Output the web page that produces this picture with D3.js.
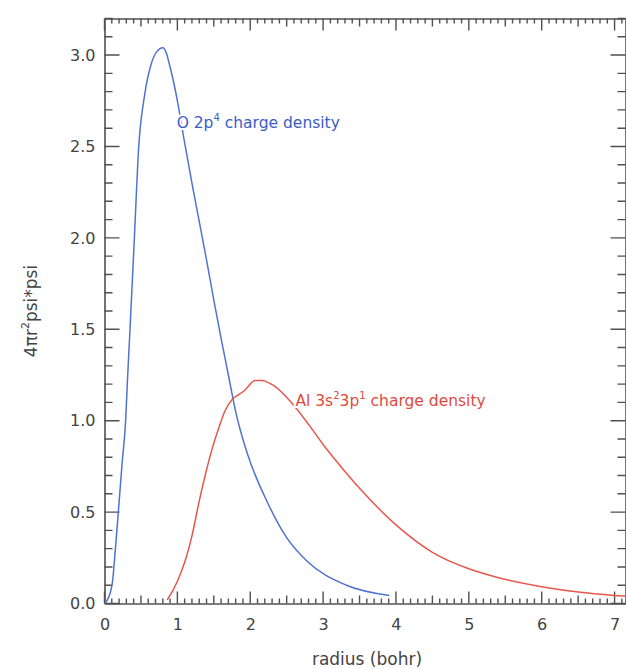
<!DOCTYPE html>
<html>
<head>
<meta charset="utf-8">
<script src="https://cdn.jsdelivr.net/npm/d3@7"></script>
<style>
  html, body { margin: 0; padding: 0; background: #fff; }
  svg { display: block; }
  text { font-family: "DejaVu Sans", sans-serif; }
</style>
</head>
<body>
<div id="chart"></div>
<script>
// ---- data ----
const oRadius  = [0, 0.04, 0.08, 0.11, 0.15, 0.19, 0.24, 0.29, 0.315, 0.35, 0.41, 0.47, 0.55, 0.64, 0.72, 0.80, 0.85, 0.89, 0.95, 1.0, 1.1, 1.2, 1.3, 1.4, 1.5, 1.6, 1.7, 1.8, 1.96, 2.24, 2.5, 2.77, 3.32, 3.91];
const oDensity = [0, 0.02, 0.06, 0.12, 0.30, 0.50, 0.76, 1.00, 1.22, 1.50, 2.00, 2.50, 2.78, 2.95, 3.02, 3.04, 3.01, 2.95, 2.85, 2.75, 2.52, 2.30, 2.09, 1.88, 1.66, 1.45, 1.25, 1.05, 0.82, 0.55, 0.36, 0.235, 0.10, 0.044];

const alRadius  = [0.86, 0.95, 1.05, 1.12, 1.20, 1.30, 1.40, 1.48, 1.56, 1.65, 1.76, 1.85, 1.92, 2.0, 2.06, 2.15, 2.33, 2.54, 2.8, 3.0, 3.2, 3.5, 4.0, 4.5, 5.0, 5.42, 6.1, 6.5, 7.0, 7.2];
const alDensity = [0.02, 0.08, 0.17, 0.25, 0.37, 0.56, 0.73, 0.85, 0.95, 1.05, 1.12, 1.145, 1.165, 1.20, 1.22, 1.22, 1.19, 1.11, 0.98, 0.87, 0.77, 0.63, 0.43, 0.28, 0.19, 0.14, 0.085, 0.063, 0.044, 0.038];

const xMajorTicks = [0, 1, 2, 3, 4, 5, 6, 7];
const yMajorTicks = [0, 0.5, 1.0, 1.5, 2.0, 2.5, 3.0];
const xDomain = [0, 7.15];
const yDomain = [0, 3.2];

const oLabel = ["O 2p", "4", " charge density"];
const alLabel = ["Al 3s", "2", "3p", "1", " charge density"];

// ---- layout ----
const W = 626, H = 669;
const margin = { left: 104.5, top: 18.5, right: 0.5, bottom: 65.5 };
const svg = d3.select("#chart").append("svg").attr("width", W).attr("height", H);

const x = d3.scaleLinear().domain(xDomain).range([margin.left, W - margin.right]);
const y = d3.scaleLinear().domain(yDomain).range([H - margin.bottom, margin.top]);
const xL = margin.left, xR = W - margin.right;
const yB = H - margin.bottom, yT = margin.top;

const axisColor = "#505050";
const blue = "#4f73d2";
const red = "#e8574c";

svg.append("clipPath").attr("id", "clip").append("rect")
  .attr("x", xL).attr("y", yT).attr("width", xR - xL).attr("height", yB - yT);

// frame lines and labels through d3 axes
const bottomAxis = d3.axisBottom(x).tickValues(xMajorTicks).tickSize(0).tickPadding(15).tickFormat(d3.format("d"));
const leftAxis = d3.axisLeft(y).tickValues(yMajorTicks).tickSize(0).tickPadding(9).tickFormat(d3.format(".1f"));
const topAxis = d3.axisTop(x).tickValues([]).tickSizeOuter(0);
const rightAxis = d3.axisRight(y).tickValues([]).tickSizeOuter(0);

function style(g) {
  g.select("path.domain").attr("stroke", axisColor).attr("stroke-width", 1.6);
  g.selectAll(".tick text").attr("fill", "#444").style("font-size", "16px").style("font-family", "DejaVu Sans");
}
svg.append("g").attr("transform", `translate(0,${yB})`).call(bottomAxis).call(style);
svg.append("g").attr("transform", `translate(${xL},0)`).call(leftAxis).call(style);
svg.append("g").attr("transform", `translate(0,${yT})`).call(topAxis).call(style);
svg.append("g").attr("transform", `translate(${xR},0)`).call(rightAxis).call(style);

// ---- tick marks (IDL style, pointing inward) ----
const xAll = d3.range(0, 72).map(i => i / 10).filter(v => v <= xDomain[1]);
const yAll = d3.range(0, 33).map(i => i / 10);
const isInt = v => Math.abs(v - Math.round(v)) < 1e-6;
const isHalf = v => Math.abs(v * 2 - Math.round(v * 2)) < 1e-6;
const xLen = v => isInt(v) ? 12 : (isHalf(v) ? 8 : 5);
const yLen = v => isHalf(v) ? 15 : 8;

const tickPath = (vals, fn) => vals.map(fn).join("");
const tickStyle = p => p.attr("fill", "none").attr("stroke", axisColor).attr("stroke-width", 1.4);
svg.append("path").call(tickStyle).attr("d", tickPath(xAll, d => `M${x(d)},${yB}V${yB - xLen(d)}`));
svg.append("path").call(tickStyle).attr("d", tickPath(xAll, d => `M${x(d)},${yT}V${yT + xLen(d)}`));
svg.append("path").call(tickStyle).attr("d", tickPath(yAll, d => `M${xL},${y(d)}H${xL + yLen(d)}`));
svg.append("path").call(tickStyle).attr("d", tickPath(yAll, d => `M${xR},${y(d)}H${xR - yLen(d)}`));

// ---- curves ----
const line = d3.line().x(d => x(d[0])).y(d => y(d[1])).curve(d3.curveMonotoneX);
const plot = svg.append("g").attr("clip-path", "url(#clip)");
plot.append("path").datum(d3.zip(oRadius, oDensity)).attr("d", line)
  .attr("fill", "none").attr("stroke", blue).attr("stroke-width", 1.5);
plot.append("path").datum(d3.zip(alRadius, alDensity)).attr("d", line)
  .attr("fill", "none").attr("stroke", red).attr("stroke-width", 1.5);

// ---- curve labels (white halo breaks the curve under the text) ----
function label(parts, xx, yy, color) {
  const t = svg.append("text").attr("x", xx).attr("y", yy).attr("fill", color)
    .style("font-size", "15.5px")
    .attr("stroke", "#fff").attr("stroke-width", 4).attr("paint-order", "stroke")
    .attr("stroke-linejoin", "round");
  parts.forEach((p, i) => {
    const sup = i % 2 === 1;
    const ts = t.append("tspan").text(p);
    if (sup) ts.attr("dy", -7).style("font-size", "10px");
    else if (i > 0) ts.attr("dy", 7);
  });
}
label(oLabel, x(0.99), y(2.6), "#3a5cc8");
label(alLabel, x(2.62), y(1.08), "#e04a3c");

// ---- axis titles ----
svg.append("text").attr("x", (xL + xR) / 2 + 2).attr("y", 665)
  .attr("text-anchor", "middle").attr("fill", "#444").style("font-size", "17px").text("radius (bohr)");

const yt = svg.append("text").attr("transform", `translate(37,${(yB + yT) / 2}) rotate(-90)`)
  .attr("text-anchor", "middle").attr("fill", "#444").style("font-size", "17px");
yt.append("tspan").text("4πr");
yt.append("tspan").text("2").attr("dy", -8).style("font-size", "11px");
yt.append("tspan").text("psi*psi").attr("dy", 8);
</script>
</body>
</html>
